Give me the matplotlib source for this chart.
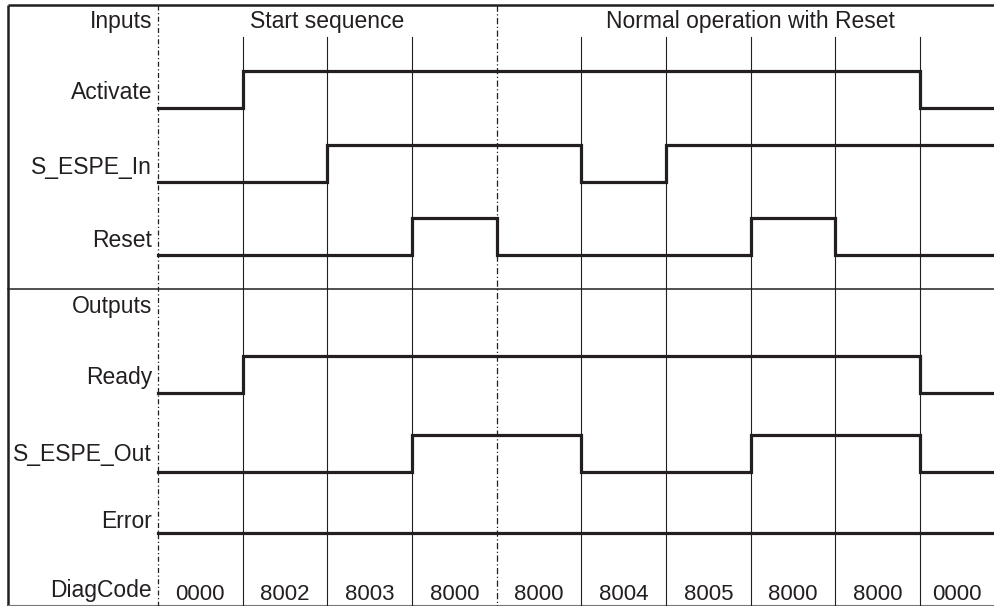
import matplotlib.pyplot as plt
import numpy as np

plt.rcParams['font.family'] = ['Liberation Sans', 'DejaVu Sans']

# timing data: 10 columns between step edges
input_names = ['Activate', 'S_ESPE_In', 'Reset']
output_names = ['Ready', 'S_ESPE_Out', 'Error']
levels = {
    'Activate':   [0, 1, 1, 1, 1, 1, 1, 1, 1, 0],
    'S_ESPE_In':  [0, 0, 1, 1, 1, 0, 1, 1, 1, 1],
    'Reset':      [0, 0, 0, 1, 0, 0, 0, 1, 0, 0],
    'Ready':      [0, 1, 1, 1, 1, 1, 1, 1, 1, 0],
    'S_ESPE_Out': [0, 0, 0, 1, 1, 0, 0, 1, 1, 0],
    'Error':      [0, 0, 0, 0, 0, 0, 0, 0, 0, 0],
}
diag_codes = ['0000', '8002', '8003', '8000', '8000',
              '8004', '8005', '8000', '8000', '0000']
phases = ['Start sequence', 'Normal operation with Reset']
phase_spans = [(0, 4), (4, 10)]

# layout (pixel rows, y grows downwards)
W, H = 994, 606
px_step = 84.67
x0 = 158
t_left = -x0 / px_step
t_right = (W - x0) / px_step
low_y = {'Activate': 108, 'S_ESPE_In': 182, 'Reset': 255,
         'Ready': 393, 'S_ESPE_Out': 472, 'Error': 533}
label_y = {'Inputs': 28, 'Activate': 99, 'S_ESPE_In': 174, 'Reset': 247,
           'Outputs': 313, 'Ready': 384, 'S_ESPE_Out': 461, 'Error': 528,
           'DiagCode': 597}
amp = 37
ink = '#231f20'
fs = 16.5

fig = plt.figure(figsize=(W / 100, H / 100), dpi=100)
ax = fig.add_axes([0, 0, 1, 1])
ax.set_xlim(t_left, t_right)
ax.set_ylim(H, 0)
ax.axis('off')

x_lab = t_left + 152 / px_step
x_frame = t_left + 8 / px_step

# frame
ax.plot([x_frame, t_right], [5, 5], color=ink, lw=1.8, solid_capstyle='butt')
ax.plot([x_frame, x_frame], [5, H], color=ink, lw=1.8, solid_capstyle='butt')
ax.plot([x_frame, t_right], [289, 289], color=ink, lw=1.1)
ax.plot([x_frame, t_right], [605, 605], color='#777777', lw=0.8)

# step grid
for t in range(1, 10):
    if t == 4:
        ax.plot([t, t], [5, H], color=ink, lw=0.9, dashes=(5, 2, 1, 2))
    else:
        ax.plot([t, t], [37, H], color=ink, lw=0.8)
ax.plot([0, 0], [5, H], color=ink, lw=0.9, dashes=(4, 2, 1, 2))

# waveforms
edges = np.arange(0, 11).astype(float)
edges[-1] = t_right
for name in input_names + output_names:
    lv = np.array(levels[name] + [levels[name][-1]])
    y = low_y[name] - amp * lv
    ax.plot(edges, y, drawstyle='steps-post', color=ink, lw=2.3,
            solid_joinstyle='miter')

# labels
for name in ['Inputs'] + input_names + ['Outputs'] + output_names + ['DiagCode']:
    ax.text(x_lab, label_y[name], name, ha='right', va='baseline',
            fontsize=fs, color=ink)

for (a, b), txt in zip(phase_spans, phases):
    ax.text((a + b) / 2, 28, txt, ha='center', va='baseline',
            fontsize=fs, color=ink)

centers = (edges[:-1] + edges[1:]) / 2
for c, code in zip(centers, diag_codes):
    ax.text(c, 600, code, ha='center', va='baseline', fontsize=16, color=ink)

fig.savefig('out.png', dpi=100)
